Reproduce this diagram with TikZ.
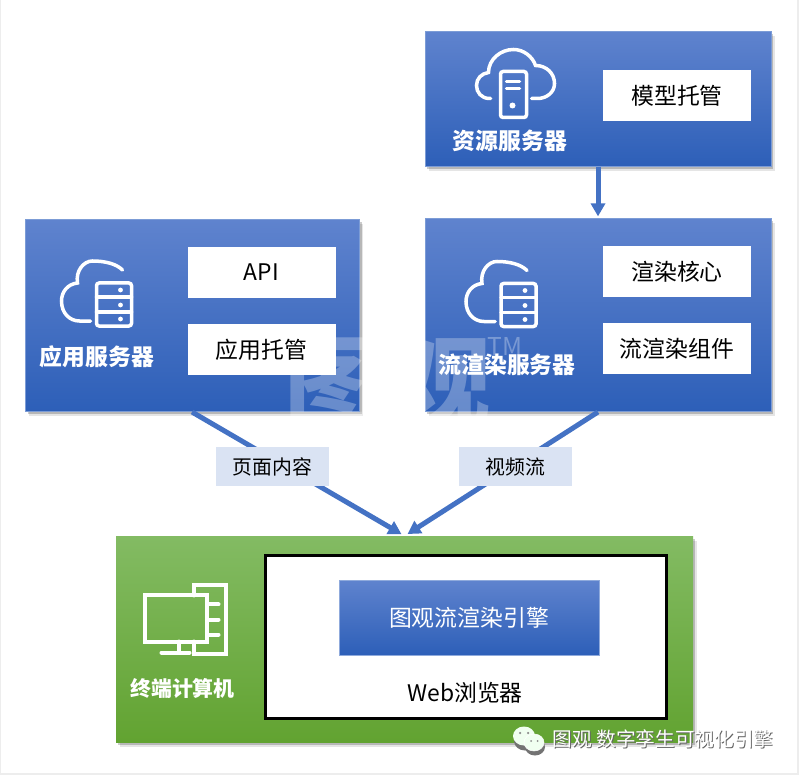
\documentclass[tikz,border=0pt]{standalone}
\usepackage{fontspec}
\setmainfont{Noto Sans CJK SC}
\usetikzlibrary{arrows.meta,shadows}

\definecolor{flowblue}{HTML}{4472C4}
\definecolor{labelblue}{HTML}{DAE3F3}
\definecolor{blue top}{HTML}{5F83CE}
\definecolor{blue mid}{HTML}{3F6DC7}
\definecolor{blue low}{HTML}{2D5FB8}
\definecolor{green top}{HTML}{83BB63}
\definecolor{green mid}{HTML}{6CAE42}
\definecolor{green low}{HTML}{62A331}

\tikzset{
  soft shadow/.style={
    drop shadow={shadow xshift=.07cm,shadow yshift=-.09cm,fill=black,opacity=.1},
    drop shadow={shadow xshift=.04cm,shadow yshift=-.05cm,fill=black,opacity=.2}},
  blue box/.style={rectangle,draw=flowblue!70,line width=.4pt,inner sep=0pt,top color=blue top,middle color=blue mid,bottom color=blue low},
  server box/.style={soft shadow,blue box},
  green box/.style={soft shadow,rectangle,inner sep=0pt,top color=green top,middle color=green mid,bottom color=green low},
  white box/.style={rectangle,fill=white,inner sep=0pt,minimum width=2.96cm,minimum height=1.02cm,font=\fontsize{13}{15}\selectfont},
  title text/.style={text=white,inner sep=0pt,font=\fontsize{13}{15}\selectfont\bfseries},
  flow label/.style={rectangle,fill=labelblue,inner sep=0pt,minimum width=2.26cm,minimum height=.78cm,font=\fontsize{11.3}{13}\selectfont},
  flow/.style={draw=flowblue,line width=.1cm,-{Triangle[width=.28cm,length=.26cm]},shorten >=1pt},
  icon line/.style={draw=white,line width=.07cm,line cap=round,fill=none},
  pics/rack cloud/.style={code={
    \begin{scope}[x=.02cm,y=-.02cm]
      \draw[icon line] (27,-23) .. controls (21,-29) and (10,-32) .. (-3,-32)
        .. controls (-12,-32) and (-20,-22) .. (-18,-10)
        .. controls (-28,-9) and (-34,-1) .. (-34,8)
        .. controls (-34,20) and (-26,28) .. (-16,28) -- (-5,28);
      \draw[icon line,rounded corners=1.5pt] (1,-10) rectangle (36,33);
      \draw[icon line] (1,4) -- (36,4);
      \draw[icon line] (1,19) -- (36,19);
      \fill[white] (25,-3) circle (2.4);
      \fill[white] (25,12) circle (2.4);
      \fill[white] (25,26) circle (2.4);
    \end{scope}
  }},
  pics/tower cloud/.style={code={
    \begin{scope}[x=.02cm,y=-.02cm]
      \draw[icon line] (-23,15) -- (-24,15) .. controls (-32,15) and (-37,9) .. (-37,2)
        .. controls (-37,-5) and (-32,-10) .. (-25,-11)
        .. controls (-25,-24) and (-13,-34) .. (0,-34)
        .. controls (10,-34) and (19,-27) .. (22,-18)
        .. controls (33,-18) and (41,-10) .. (41,0)
        .. controls (41,9) and (33,15) .. (24,15) -- (18,15);
      \draw[icon line,rounded corners=1.5pt] (-13,-12) rectangle (13,34);
      \draw[icon line] (-7,-2) -- (6,-2);
      \draw[icon line] (-7,5) -- (6,5);
      \fill[white] (-1,22) circle (3);
    \end{scope}
  }},
  pics/desktop/.style={code={
    \begin{scope}[x=.02cm,y=-.02cm,icon line/.append style={line width=.08cm}]
      \draw[icon line] (-38,-23) rectangle (23,23);
      \draw[icon line] (-5,23) -- (-5,34);
      \draw[icon line] (-22,34) -- (6,34);
      \draw[icon line] (10,-23) -- (10,-33) -- (42,-33) -- (42,35) -- (10,35) -- (10,23);
      \draw[icon line] (25,-14) -- (35,-14);
      \draw[icon line] (25,1) -- (35,1);
      \draw[icon line] (25,16) -- (35,16);
    \end{scope}
  }}
}

\begin{document}
\begin{tikzpicture}

  \path[use as bounding box,fill=white] (0,0) rectangle (16,15.5);
  \draw[black!7,line width=.04cm] (0,.02) -- (15.96,.02) -- (15.96,15.5);
  \draw[black!7,line width=.04cm] (.01,0) -- (.01,15.5);

  % server boxes
  \node[server box,minimum width=6.92cm,minimum height=2.7cm] (res) at (11.96,13.52) {};
  \node[server box,minimum width=6.92cm,minimum height=3.86cm] (render) at (11.96,9.2) {};
  \node[server box,minimum width=6.68cm,minimum height=3.84cm] (app) at (3.85,9.19) {};

  % watermark
  \node[text=white,text opacity=.28,inner sep=0pt,font=\fontsize{56}{60}\selectfont\bfseries] (mark) at (7.75,7.84) {图\hspace{.1em}观};
  \node[text=white,text opacity=.3,inner sep=0pt,font=\fontsize{14}{16}\selectfont] (tm) at (10.1,8.58) {TM};

  \node[white box] (model) at (13.54,13.59) {模型托管};
  \node[white box] (core) at (13.54,10.06) {渲染核心};
  \node[white box] (part) at (13.54,8.52) {流渲染组件};
  \node[white box] (api) at (5.23,10.05) {API};
  \node[white box] (host) at (5.23,8.51) {应用托管};

  \node[title text] (restitle) at (10.2,12.68) {资源服务器};
  \node[title text] (rendertitle) at (10.14,8.2) {流渲染服务器};
  \node[title text] (apptitle) at (1.94,8.36) {应用服务器};

  \pic at (10.27,13.83) {tower cloud};
  \pic at (10,9.63) {rack cloud};
  \pic at (1.91,9.64) {rack cloud};

  % terminal
  \node[green box,minimum width=11.54cm,minimum height=4.12cm] (term) at (8.09,2.72) {};
  \node[rectangle,draw=black,fill=white,line width=.06cm,inner sep=0pt,minimum width=8.02cm,minimum height=3.26cm] (browser) at (9.31,2.77) {};
  \node[blue box,draw=flowblue!60,text=white,minimum width=5.2cm,minimum height=1.5cm,font=\fontsize{13}{15}\selectfont] (engine) at (9.38,3.15) {图观流渲染引擎};
  \node[inner sep=0pt,font=\fontsize{13}{15}\selectfont] (web) at (9.3,1.64) {Web浏览器};
  \node[title text,font=\fontsize{11.9}{14}\selectfont\bfseries] (termtitle) at (3.65,1.74) {终端计算机};
  \pic at (3.67,3.13) {desktop};

  % connectors
  \coordinate (appout) at (3.84,7.26);
  \coordinate (renderout) at (11.96,7.26);
  \coordinate (termleft) at (8.06,4.8);
  \coordinate (termright) at (8.12,4.8);

  \draw[flow] (res) -- (render);
  \draw[flow] (appout) -- (termleft);
  \draw[flow] (renderout) -- (termright);

  \node[flow label] (page) at (5.45,6.17) {页面内容};
  \node[flow label] (video) at (10.31,6.17) {视频流};

  % footer
  \fill[black!55] (10.5,.68) ellipse (.22 and .19);
  \fill[black!55] (10.7,.56) ellipse (.2 and .17);
  \fill[green!6!white] (10.48,.78) ellipse (.22 and .19);
  \filldraw[fill=green!6!white,draw=white,line width=.3pt] (10.68,.65) ellipse (.2 and .17);
  \fill[black!45] (10.4,.84) circle (.025);
  \fill[black!45] (10.56,.84) circle (.025);
  \fill[black!45] (10.62,.68) circle (.02);
  \fill[black!45] (10.75,.68) circle (.02);
  \node[text=black!60,inner sep=0pt,font=\fontsize{11.2}{13}\selectfont] (footshadow) at (13.28,.70) {图观 数字孪生可视化引擎};
  \node[text=white,inner sep=0pt,font=\fontsize{11.2}{13}\selectfont] (foot) at (13.26,.72) {图观 数字孪生可视化引擎};

\end{tikzpicture}
\end{document}
